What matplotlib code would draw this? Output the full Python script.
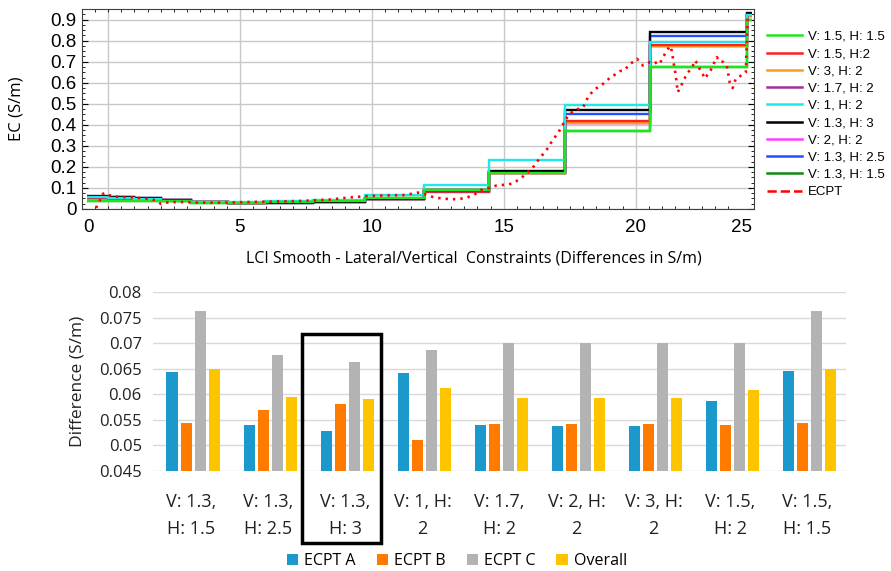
import numpy as np
import matplotlib.pyplot as plt
from matplotlib.lines import Line2D
from matplotlib.patches import Rectangle
from matplotlib.ticker import MultipleLocator

plt.rcParams['font.family'] = ['Open Sans', 'DejaVu Sans']

# ---- top panel: smooth LCI models vs ECPT ----
# layer boundaries along the profile
edges = [-0.8, 0, 0.98, 2.0, 3.14, 4.55, 5.95, 7.77, 9.73, 11.97, 14.43, 17.31, 20.53, 24.2, 24.39]

v13_h15 = [0.040, 0.040, 0.040, 0.036, 0.030, 0.030, 0.034, 0.038, 0.052, 0.088, 0.172, 0.369, 0.677, 0.900]
v17_h2 = [0.048, 0.047, 0.045, 0.041, 0.034, 0.030, 0.033, 0.036, 0.047, 0.085, 0.170, 0.410, 0.775, 0.915]
v2_h2 = [0.048, 0.047, 0.045, 0.041, 0.034, 0.030, 0.033, 0.036, 0.047, 0.085, 0.170, 0.410, 0.775, 0.915]
v3_h2 = [0.048, 0.047, 0.045, 0.041, 0.034, 0.030, 0.033, 0.036, 0.047, 0.085, 0.170, 0.410, 0.775, 0.915]
v15_h2 = [0.050, 0.048, 0.046, 0.040, 0.032, 0.029, 0.032, 0.035, 0.046, 0.083, 0.172, 0.416, 0.780, 0.920]
v13_h25 = [0.058, 0.055, 0.050, 0.042, 0.031, 0.028, 0.030, 0.034, 0.048, 0.087, 0.178, 0.450, 0.824, 0.925]
v13_h3 = [0.062, 0.057, 0.052, 0.043, 0.031, 0.027, 0.028, 0.033, 0.048, 0.088, 0.182, 0.471, 0.841, 0.930]
v1_h2 = [0.055, 0.052, 0.048, 0.040, 0.033, 0.032, 0.040, 0.042, 0.067, 0.116, 0.232, 0.494, 0.793, 0.920]
v15_h15 = [0.040, 0.040, 0.040, 0.036, 0.030, 0.030, 0.034, 0.038, 0.052, 0.088, 0.172, 0.369, 0.677, 0.900]

ecpt_x = [-0.45, -0.38, -0.27, -0.19, -0.08, 0.04, 0.23, 0.45, 0.76, 1.02, 1.29, 1.59, 1.82, 2.01,
          2.2, 2.42, 2.73, 3.11, 3.48, 3.86, 4.24, 4.62, 5.0, 5.38, 5.76, 6.14, 6.52, 6.89, 7.27,
          7.65, 8.41, 9.17, 9.92, 10.68, 11.25, 11.74, 12.0, 12.31, 12.65, 13.03, 13.33, 13.6,
          13.9, 14.2, 14.47, 14.73, 15.04, 15.3, 15.61, 15.87, 16.1, 16.29, 16.48, 16.67, 16.86,
          17.05, 17.23, 17.42, 17.61, 17.8, 17.99, 18.18, 18.37, 18.52, 18.71, 18.9, 19.09, 19.24,
          19.39, 19.58, 19.77, 19.92, 20.04, 20.15, 20.27, 20.42, 20.53, 20.68, 20.8, 20.91, 21.02,
          21.17, 21.29, 21.36, 21.44, 21.52, 21.55, 21.59, 21.67, 21.78, 21.93, 22.05, 22.16,
          22.23, 22.35, 22.42, 22.54, 22.61, 22.73, 22.84, 22.95, 23.07, 23.18, 23.3, 23.45,
          23.56, 23.67, 23.79, 23.94, 24.05, 24.17, 24.24]
ecpt_y = [0.005, 0.024, 0.05, 0.072, 0.076, 0.066, 0.06, 0.057, 0.056, 0.055, 0.05, 0.048, 0.04, 0.024,
          0.03, 0.033, 0.033, 0.032, 0.03, 0.03, 0.03, 0.031, 0.032, 0.033, 0.034, 0.035, 0.036,
          0.037, 0.038, 0.04, 0.045, 0.055, 0.062, 0.065, 0.066, 0.078, 0.07, 0.057, 0.05, 0.046,
          0.048, 0.054, 0.07, 0.095, 0.1, 0.112, 0.115, 0.12, 0.142, 0.17, 0.197, 0.23, 0.26, 0.29,
          0.33, 0.36, 0.40, 0.44, 0.465, 0.475, 0.48, 0.53, 0.56, 0.575, 0.59, 0.61, 0.632, 0.64,
          0.655, 0.66, 0.69, 0.70, 0.714, 0.70, 0.682, 0.69, 0.698, 0.69, 0.698, 0.69, 0.72,
          0.75, 0.775, 0.753, 0.69, 0.63, 0.595, 0.555, 0.575, 0.602, 0.642, 0.66, 0.68, 0.706,
          0.69, 0.665, 0.64, 0.62, 0.64, 0.66, 0.69, 0.722, 0.70, 0.70, 0.68, 0.60, 0.575, 0.62,
          0.63, 0.642, 0.65, 0.93]

# legend order / colours
models = [
    ('V: 1.5, H: 1.5', '#1ee61e', v15_h15),
    ('V: 1.5, H:2', '#ff2020', v15_h2),
    ('V: 3, H: 2', '#ff9a20', v3_h2),
    ('V: 1.7, H: 2', '#a0309a', v17_h2),
    ('V: 1, H: 2', '#20e8e8', v1_h2),
    ('V: 1.3, H: 3', '#000000', v13_h3),
    ('V: 2, H: 2', '#ff40ff', v2_h2),
    ('V: 1.3, H: 2.5', '#2050ff', v13_h25),
    ('V: 1.3, H: 1.5', '#108a10', v13_h15),
]
draw_order = [8, 3, 6, 2, 1, 7, 5, 4, 0]

grid_x = [0, 5, 10, 15, 20]
xtick_pos = [-0.72, 5, 10, 15, 20, 24.0]
xtick_lbl = ['0', '5', '10', '15', '20', '25']

# ---- bottom panel: differences ----
cats = ['V: 1.3,\nH: 1.5', 'V: 1.3,\nH: 2.5', 'V: 1.3,\nH: 3', 'V: 1, H:\n2', 'V: 1.7,\nH: 2',
        'V: 2, H:\n2', 'V: 3, H:\n2', 'V: 1.5,\nH: 2', 'V: 1.5,\nH: 1.5']
ecpt_a = [0.0643, 0.0539, 0.0528, 0.0642, 0.0539, 0.0538, 0.0538, 0.0587, 0.0645]
ecpt_b = [0.0544, 0.0569, 0.0581, 0.0510, 0.0541, 0.0541, 0.0541, 0.0539, 0.0544]
ecpt_c = [0.0762, 0.0676, 0.0663, 0.0686, 0.0700, 0.0700, 0.0700, 0.0700, 0.0762]
overall = [0.0649, 0.0594, 0.0591, 0.0612, 0.0593, 0.0593, 0.0593, 0.0609, 0.0649]
diff_ticks = [0.045, 0.05, 0.055, 0.06, 0.065, 0.07, 0.075, 0.08]
diff_lbls = ['0.045', '0.05', '0.055', '0.06', '0.065', '0.07', '0.075', '0.08']
chosen = 2

fig = plt.figure(figsize=(8.91, 5.71), dpi=100)

ax1 = fig.add_axes([0.092, 0.634, 0.754, 0.350])
for gx in grid_x:
    ax1.axvline(gx, color='#c8c8c8', lw=1, zorder=0.5)
ax1.grid(axis='y', color='#c8c8c8', lw=1)
ax1.set_axisbelow(True)

for i in draw_order:
    name, col, vals = models[i]
    ax1.stairs(vals, edges, baseline=None, color=col, lw=1.7, zorder=2)
ax1.plot(ecpt_x, ecpt_y, color='red', ls=(0, (0.9, 1.9)), lw=1.9, zorder=3)

ax1.set_xlim(-0.985, 24.47)
ax1.set_ylim(0, 0.95)
ax1.set_xticks(xtick_pos)
ax1.set_xticklabels(xtick_lbl)
ax1.set_yticks(np.arange(0, 0.91, 0.1))
ax1.set_yticklabels(['0', '0.1', '0.2', '0.3', '0.4', '0.5', '0.6', '0.7', '0.8', '0.9'])
ax1.xaxis.set_minor_locator(MultipleLocator(0.5))
ax1.yaxis.set_minor_locator(MultipleLocator(0.025))
ax1.tick_params(axis='x', which='major', length=0, pad=7, labelsize=13.5,
                labelfontfamily='Liberation Sans')
ax1.tick_params(axis='y', which='major', direction='in', length=4, left=True, right=True,
                pad=4, labelsize=13.5, labelfontfamily='Liberation Sans')
ax1.tick_params(which='minor', direction='in', length=2.5, top=True, bottom=True,
                left=True, right=True)
for s in ax1.spines.values():
    s.set_color('#404040')
ax1.set_ylabel('EC (S/m)', fontsize=12)
ax1.yaxis.set_label_coords(-0.085, 0.5)
ax1.set_xlabel('LCI Smooth - Lateral/Vertical  Constraints (Differences in S/m)', fontsize=11.5)
ax1.xaxis.set_label_coords(0.583, -0.25)
ax1.xaxis.label.set_va('center')

handles = [Line2D([], [], color=c, lw=1.8) for _, c, _ in models]
handles.append(Line2D([], [], color='red', ls='--', lw=1.8))
names = [m[0] for m in models] + ['ECPT']
fig.legend(handles, names, loc='upper left', bbox_to_anchor=(0.847, 0.967), frameon=False,
           handlelength=2.7, labelspacing=0.38, handletextpad=0.45,
           prop={'family': 'Liberation Sans', 'size': 9.5})

ax2 = fig.add_axes([0.1717, 0.1751, 0.7778, 0.3135])
x = np.arange(len(cats))
w = 0.143
step = 0.182
cols = ['#1b98cc', '#ff7b00', '#b3b3b3', '#ffc400']
names2 = ['ECPT A', 'ECPT B', 'ECPT C', 'Overall']
bars = []
for k, vals in enumerate([ecpt_a, ecpt_b, ecpt_c, overall]):
    b = ax2.bar(x + (k - 1.5) * step + 0.02, vals, width=w, color=cols[k], zorder=2)
    bars.append(b)

ax2.set_xlim(-0.5, len(cats) - 0.5)
ax2.set_ylim(0.045, 0.08)
ax2.set_yticks(diff_ticks)
ax2.set_yticklabels(diff_lbls)
ax2.set_xticks(x)
ax2.set_xticklabels(cats, linespacing=1.6)
ax2.yaxis.grid(True, color='#d9d9d9', lw=1, zorder=0)
ax2.tick_params(length=0)
ax2.tick_params(axis='y', labelsize=12, pad=8, colors='#222222')
ax2.tick_params(axis='x', labelsize=13, pad=16, colors='#222222')
for s in ax2.spines.values():
    s.set_visible(False)
ax2.set_ylabel('Difference (S/m)', fontsize=12.5, color='#222222')
ax2.yaxis.set_label_coords(-0.098, 0.5)

# box around the chosen setting
ax2.add_patch(Rectangle((chosen - 0.565, 0.0309), 1.026, 0.0718 - 0.0309, fill=False,
                        ec='black', lw=2.5, clip_on=False, zorder=5))

fig.legend(bars, names2, loc='center', bbox_to_anchor=(0.513, 0.0175), ncol=4, frameon=False,
           fontsize=11.5, handlelength=0.7, handleheight=0.7, handletextpad=0.4,
           columnspacing=1.3)

fig.savefig('out.png', dpi=100)
